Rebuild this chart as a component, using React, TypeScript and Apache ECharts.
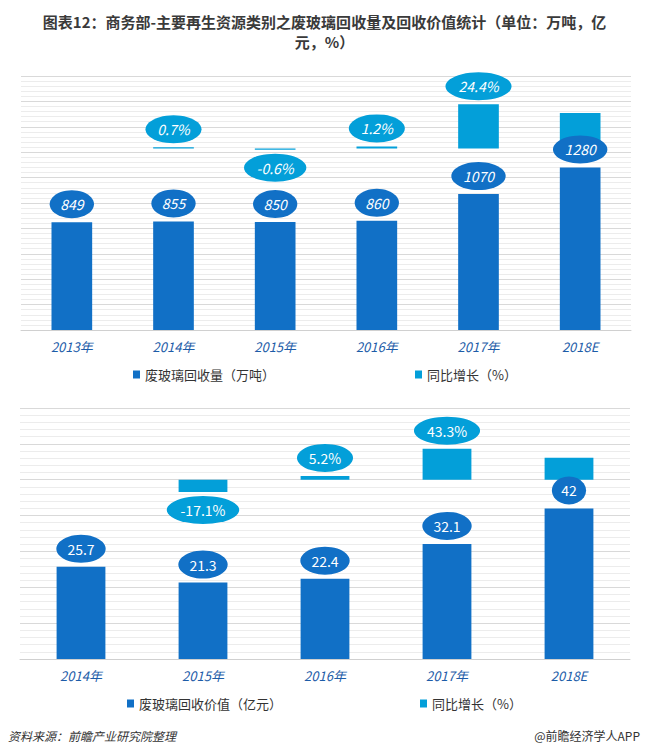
import React, { useEffect, useRef } from 'react';
import * as echarts from 'echarts';

const years1 = ['2013年', '2014年', '2015年', '2016年', '2017年', '2018E'];
const volume = [849, 855, 850, 860, 1070, 1280];
const volumeGrowth = [null, 0.7, -0.6, 1.2, 24.4, 19.6];
const volumeGrowthLabels = [null, 0.7, -0.6, 1.2, 24.4, null];

const years2 = ['2014年', '2015年', '2016年', '2017年', '2018E'];
const worth = [25.7, 21.3, 22.4, 32.1, 42];
const worthGrowth = [null, -17.1, 5.2, 43.3, 30.8];
const worthGrowthLabels = [null, -17.1, 5.2, 43.3, null];

const nameVolume = '废玻璃回收量（万吨）';
const nameWorth = '废玻璃回收价值（亿元）';
const nameGrowth = '同比增长（%）';

const DARK = '#1170c6';
const LIGHT = '#039fd9';
const FONT = '"Noto Sans CJK SC", "Noto Sans", sans-serif';

let ctx: CanvasRenderingContext2D | null = null;
function textWidth(t: string, italic: boolean) {
  if (!ctx) ctx = document.createElement('canvas').getContext('2d');
  if (!ctx) return t.length * 8;
  ctx.font = (italic ? 'italic ' : '') + '14px ' + FONT;
  return ctx.measureText(t).width;
}

function labelSeries(data: (number | null)[], xi: number, yi: number, italic: boolean, pct: boolean, color: string) {
  const fmt = (v: number) => (pct ? v + '%' : String(v));
  return {
    type: 'scatter',
    name: 'lbl' + xi + '_' + yi,
    xAxisIndex: xi,
    yAxisIndex: yi,
    symbol: 'circle',
    silent: true,
    z: 5,
    symbolSize: (v: any) => {
      const val = Array.isArray(v) ? v[1] : v;
      return [textWidth(fmt(val), italic) * 1.3 + 14, 28];
    },
    itemStyle: { color, opacity: 1 },
    label: {
      show: true,
      position: 'inside',
      color: '#ffffff',
      fontSize: 14,
      fontStyle: italic ? 'italic' : 'normal',
      fontFamily: FONT,
      formatter: (p: any) => fmt(p.value),
    },
    data: data.map((v) => (v === null ? null : { value: v, symbolOffset: [0, v < 0 ? 18 : -18] })),
  };
}

export default function App() {
  const ref = useRef<HTMLDivElement>(null);
  useEffect(() => {
    document.body.style.margin = '0';
    if (!ref.current) return;
    const chart = echarts.init(ref.current, null, { renderer: 'svg' });
    const axisLabel = { fontStyle: 'italic', fontSize: 13, color: '#1d5ca8', fontFamily: FONT, margin: 10 };
    const xBase = {
      type: 'category',
      axisTick: { show: false },
      axisLine: { lineStyle: { color: '#d0d0d0' } },
      axisLabel,
    };
    const yAmount = (gi: number, max: number, interval: number) => ({
      type: 'value',
      gridIndex: gi,
      min: 0,
      max,
      interval,
      axisLabel: { show: false },
      axisLine: { show: false },
      axisTick: { show: false },
      splitLine: { show: true, lineStyle: { color: '#d9d9d9' } },
      minorTick: { show: false, splitNumber: 5 },
      minorSplitLine: { show: true, lineStyle: { color: '#ececec' } },
    });
    const yGrowth = (gi: number, min: number, max: number) => ({
      type: 'value',
      gridIndex: gi,
      min,
      max,
      show: false,
      splitLine: { show: false },
    });
    const legendBase = {
      icon: 'rect',
      itemWidth: 7,
      itemHeight: 8,
      padding: 0,
      selectedMode: false,
      textStyle: { fontSize: 13, color: '#333333', fontFamily: FONT },
    };
    const option = {
      animation: false,
      backgroundColor: '#ffffff',
      grid: [
        { left: 21, right: 18, top: 76, height: 254 },
        { left: 20, right: 19, top: 408, height: 251 },
      ],
      xAxis: [
        { ...xBase, gridIndex: 0, data: years1 },
        { ...xBase, gridIndex: 1, data: years2 },
      ],
      yAxis: [
        yAmount(0, 2000, 200),
        yGrowth(0, -100, 40),
        yAmount(1, 70, 10),
        yGrowth(1, -250, 100),
      ],
      legend: [
        { ...legendBase, left: 133, top: 368, data: [nameVolume] },
        { ...legendBase, left: 415, top: 368, data: [nameGrowth] },
        { ...legendBase, left: 127, top: 697, data: [nameWorth] },
        { ...legendBase, left: 420, top: 697, data: [nameGrowth] },
      ],
      series: [
        { type: 'bar', name: nameVolume, xAxisIndex: 0, yAxisIndex: 0, barWidth: '40%', barGap: '-100%', itemStyle: { color: DARK }, data: volume },
        { type: 'bar', name: nameGrowth, xAxisIndex: 0, yAxisIndex: 1, barWidth: '40%', barGap: '-100%', itemStyle: { color: LIGHT }, data: volumeGrowth },
        labelSeries(volume, 0, 0, true, false, DARK),
        labelSeries(volumeGrowthLabels, 0, 1, true, true, LIGHT),
        { type: 'bar', name: nameWorth, xAxisIndex: 1, yAxisIndex: 2, barWidth: '40%', barGap: '-100%', itemStyle: { color: DARK }, data: worth },
        { type: 'bar', name: nameGrowth, xAxisIndex: 1, yAxisIndex: 3, barWidth: '40%', barGap: '-100%', itemStyle: { color: LIGHT }, data: worthGrowth },
        labelSeries(worth, 1, 2, false, false, DARK),
        labelSeries(worthGrowthLabels, 1, 3, false, true, LIGHT),
      ],
      graphic: [
        {
          type: 'text', left: 'center', top: 14,
          style: { text: '图表12：商务部-主要再生资源类别之废玻璃回收量及回收价值统计（单位：万吨，亿', font: 'bold 15px ' + FONT, fill: '#3a3a3a' },
        },
        {
          type: 'text', left: 'center', top: 34,
          style: { text: '元，%）', font: 'bold 15px ' + FONT, fill: '#3a3a3a' },
        },
        {
          type: 'text', left: 8, top: 729,
          style: { text: '资料来源：前瞻产业研究院整理', font: 'italic 12px ' + FONT, fill: '#333333' },
        },
        {
          type: 'text', right: 9, top: 729,
          style: { text: '@前瞻经济学人APP', font: '12px ' + FONT, fill: '#333333' },
        },
      ],
    };
    chart.setOption(option as any);
    return () => chart.dispose();
  }, []);
  return <div ref={ref} style={{ width: 649, height: 756 }} />;
}
